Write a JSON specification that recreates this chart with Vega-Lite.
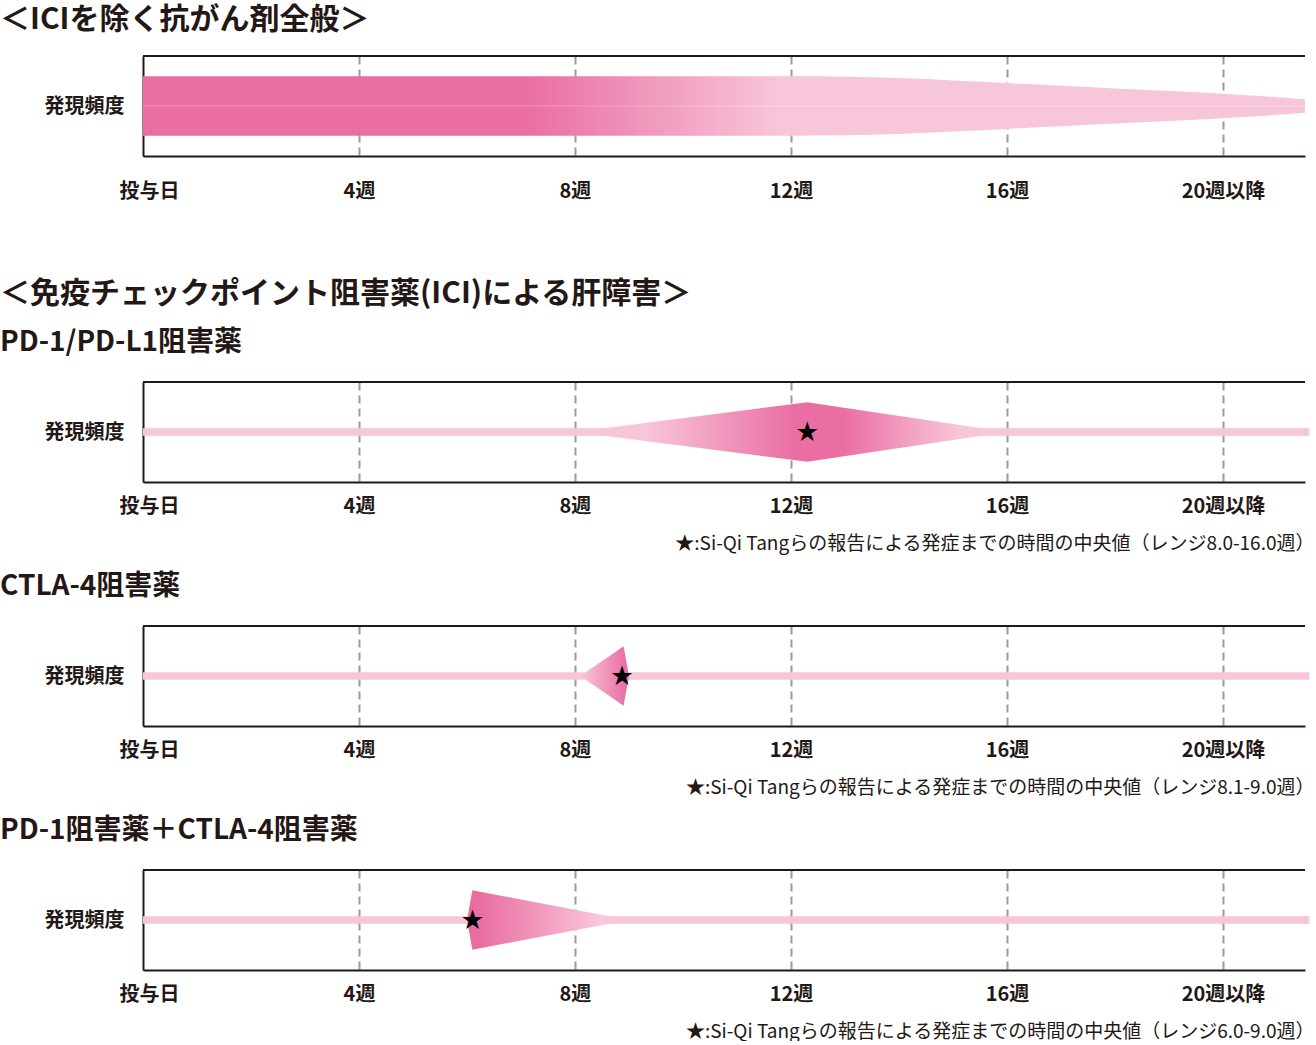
{
  "$schema": "https://vega.github.io/schema/vega-lite/v6.json",
  "padding": {"top": 5, "left": 0, "right": 0, "bottom": 0},
  "background": "white",
  "config": {
    "font": "Noto Sans CJK JP",
    "view": {"stroke": null},
    "axis": {
      "labelFont": "Noto Sans CJK JP",
      "titleFont": "Noto Sans CJK JP",
      "labelColor": "#231815",
      "titleColor": "#231815",
      "domainColor": "#231815",
      "domainWidth": 2,
      "ticks": false
    },
    "title": {
      "font": "Noto Sans CJK JP",
      "subtitleFont": "Noto Sans CJK JP",
      "color": "#231815",
      "subtitleColor": "#231815",
      "fontWeight": "bold",
      "subtitleFontWeight": "bold",
      "anchor": "start",
      "frame": "bounds"
    }
  },
  "datasets": {
    "general": [
      {"week": 0, "lo": -1, "hi": 1},
      {"week": 12, "lo": -1, "hi": 1},
      {"week": 13, "lo": -0.985, "hi": 0.985},
      {"week": 14, "lo": -0.94, "hi": 0.94},
      {"week": 15, "lo": -0.86, "hi": 0.86},
      {"week": 16, "lo": -0.77, "hi": 0.77},
      {"week": 17, "lo": -0.68, "hi": 0.68},
      {"week": 18, "lo": -0.59, "hi": 0.59},
      {"week": 19, "lo": -0.5, "hi": 0.5},
      {"week": 20, "lo": -0.41, "hi": 0.41},
      {"week": 21.52, "lo": -0.23, "hi": 0.23}
    ],
    "pd1": [
      {"week": 8, "lo": 0, "hi": 0},
      {"week": 12.3, "lo": -1, "hi": 1},
      {"week": 16, "lo": 0, "hi": 0}
    ],
    "ctla4": [
      {"week": 8.1, "lo": 0, "hi": 0},
      {"week": 8.9, "lo": -1, "hi": 1},
      {"week": 9.0, "lo": 0, "hi": 0}
    ],
    "combo": [
      {"week": 6.0, "lo": 0, "hi": 0},
      {"week": 6.1, "lo": -1, "hi": 1},
      {"week": 9.0, "lo": 0, "hi": 0}
    ],
    "pd1_median": [{"week": 12.3}],
    "ctla4_median": [{"week": 8.87}],
    "combo_median": [{"week": 6.1}]
  },
  "spacing": 78,
  "vconcat": [
    {
      "width": 1162,
      "height": 100,
      "title": {"text": "＜ICIを除く抗がん剤全般＞", "fontSize": 30, "dx": -44, "offset": 20},
      "layer": [
        {
          "data": {"values": [{}]},
          "mark": {"type": "rule", "color": "#231815", "strokeWidth": 2},
          "encoding": {"y": {"datum": 1.68, "type": "quantitative", "scale": {"domain": [-1.68, 1.68], "nice": false, "zero": false}}}
        },
        {
          "data": {"name": "general"},
          "mark": {
            "type": "area", "orient": "vertical", "interpolate": "monotone",
            "fill": {"gradient": "linear", "x1": 0, "y1": 0, "x2": 1, "y2": 0,
              "stops": [
                {"offset": 0, "color": "#ea6ea2"},
                {"offset": 0.33, "color": "#ea6ea2"},
                {"offset": 0.55, "color": "#f8c6da"},
                {"offset": 1, "color": "#f8c6da"}
              ]}
          },
          "encoding": {
            "x": {"field": "week", "type": "quantitative", "scale": {"domain": [0, 21.52], "nice": false, "zero": false},
              "axis": {"values": [0, 4, 8, 12, 16, 20],
                "labelExpr": "datum.value === 0 ? '投与日' : datum.value === 20 ? '20週以降' : datum.value + '週'",
                "labelFontSize": 20, "labelFontWeight": "bold", "labelPadding": 25, "labelFlush": false,
                "labelOffset": {"condition": {"test": "datum.value === 0", "value": 6}, "value": 0},
                "grid": true, "gridColor": "#9b9b9b", "gridDash": [8, 5], "gridWidth": 2,
                "gridOpacity": {"condition": {"test": "datum.value === 0", "value": 0}, "value": 1},
                "title": null}},
            "y": {"field": "lo", "type": "quantitative", "scale": {"domain": [-1.68, 1.68], "nice": false, "zero": false},
              "axis": {"values": [0], "labelExpr": "'発現頻度'", "labelFontSize": 20, "labelFontWeight": "bold", "labelPadding": 19, "grid": false, "title": null}},
            "y2": {"field": "hi"}
          }
        },
        {
          "data": {"values": [{}]},
          "mark": {"type": "rule", "color": "white", "strokeWidth": 1, "opacity": 0.25},
          "encoding": {"y": {"datum": 0, "type": "quantitative", "scale": {"domain": [-1.68, 1.68], "nice": false, "zero": false}}}
        }
      ]
    },
    {
      "spacing": 20,
      "vconcat": [
        {
          "width": 1162,
          "height": 100,
          "title": {"text": "＜免疫チェックポイント阻害薬(ICI)による肝障害＞", "subtitle": "PD-1/PD-L1阻害薬", "fontSize": 30, "subtitleFontSize": 28, "subtitlePadding": 20, "dx": -44, "offset": 24},
          "layer": [
            {
              "data": {"values": [{}]},
              "mark": {"type": "rule", "color": "#231815", "strokeWidth": 2},
              "encoding": {"y": {"datum": 1.68, "type": "quantitative", "scale": {"domain": [-1.68, 1.68], "nice": false, "zero": false}}}
            },
            {
              "data": {"values": [{}]},
              "mark": {"type": "rule", "color": "#f8c6da", "strokeWidth": 7.5, "clip": false},
              "encoding": {
                "x": {"datum": 0, "type": "quantitative", "scale": {"domain": [0, 21.52], "nice": false, "zero": false}},
                "x2": {"datum": 21.6},
                "y": {"datum": 0, "type": "quantitative", "scale": {"domain": [-1.68, 1.68], "nice": false, "zero": false}}
              }
            },
            {
              "data": {"name": "pd1"},
              "mark": {
                "type": "area", "orient": "vertical",
                "fill": {"gradient": "linear", "x1": 0, "y1": 0, "x2": 1, "y2": 0,
                  "stops": [
                    {"offset": 0, "color": "#f8c6da"},
                    {"offset": 0.16, "color": "#f8c6da"},
                    {"offset": 0.51, "color": "#ea6ea2"},
                    {"offset": 0.62, "color": "#ea6ea2"},
                    {"offset": 0.89, "color": "#f8c6da"},
                    {"offset": 1, "color": "#f8c6da"}
                  ]}
              },
              "encoding": {
                "x": {"field": "week", "type": "quantitative", "scale": {"domain": [0, 21.52], "nice": false, "zero": false},
                  "axis": {"values": [0, 4, 8, 12, 16, 20],
                    "labelExpr": "datum.value === 0 ? '投与日' : datum.value === 20 ? '20週以降' : datum.value + '週'",
                    "labelFontSize": 20, "labelFontWeight": "bold", "labelPadding": 14, "labelFlush": false,
                    "labelOffset": {"condition": {"test": "datum.value === 0", "value": 6}, "value": 0},
                    "grid": true, "gridColor": "#9b9b9b", "gridDash": [8, 5], "gridWidth": 2,
                    "gridOpacity": {"condition": {"test": "datum.value === 0", "value": 0}, "value": 1},
                    "title": "★:Si-Qi Tangらの報告による発症までの時間の中央値（レンジ8.0-16.0週）",
                    "titleFontSize": 19, "titleFontWeight": "normal", "titleAnchor": "end", "titleAlign": "right", "titleX": 1171, "titlePadding": 18}},
                "y": {"field": "lo", "type": "quantitative", "scale": {"domain": [-1.68, 1.68], "nice": false, "zero": false},
                  "axis": {"values": [0], "labelExpr": "'発現頻度'", "labelFontSize": 20, "labelFontWeight": "bold", "labelPadding": 19, "grid": false, "title": null}},
                "y2": {"field": "hi"}
              }
            },
            {
              "data": {"name": "pd1_median"},
              "mark": {"type": "text", "text": "★", "fontSize": 22, "color": "#000000", "baseline": "middle", "align": "center"},
              "encoding": {
                "x": {"field": "week", "type": "quantitative", "scale": {"domain": [0, 21.52], "nice": false, "zero": false}},
                "y": {"datum": 0, "type": "quantitative", "scale": {"domain": [-1.68, 1.68], "nice": false, "zero": false}}
              }
            }
          ]
        },
        {
          "width": 1162,
          "height": 100,
          "title": {"text": "CTLA-4阻害薬", "fontSize": 28, "dx": -44, "offset": 24},
          "layer": [
            {
              "data": {"values": [{}]},
              "mark": {"type": "rule", "color": "#231815", "strokeWidth": 2},
              "encoding": {"y": {"datum": 1.68, "type": "quantitative", "scale": {"domain": [-1.68, 1.68], "nice": false, "zero": false}}}
            },
            {
              "data": {"values": [{}]},
              "mark": {"type": "rule", "color": "#f8c6da", "strokeWidth": 7.5, "clip": false},
              "encoding": {
                "x": {"datum": 0, "type": "quantitative", "scale": {"domain": [0, 21.52], "nice": false, "zero": false}},
                "x2": {"datum": 21.6},
                "y": {"datum": 0, "type": "quantitative", "scale": {"domain": [-1.68, 1.68], "nice": false, "zero": false}}
              }
            },
            {
              "data": {"name": "ctla4"},
              "mark": {
                "type": "area", "orient": "vertical",
                "fill": {"gradient": "linear", "x1": 0, "y1": 0, "x2": 1, "y2": 0,
                  "stops": [
                    {"offset": 0, "color": "#f8c6da"},
                    {"offset": 1, "color": "#e96aa0"}
                  ]}
              },
              "encoding": {
                "x": {"field": "week", "type": "quantitative", "scale": {"domain": [0, 21.52], "nice": false, "zero": false},
                  "axis": {"values": [0, 4, 8, 12, 16, 20],
                    "labelExpr": "datum.value === 0 ? '投与日' : datum.value === 20 ? '20週以降' : datum.value + '週'",
                    "labelFontSize": 20, "labelFontWeight": "bold", "labelPadding": 14, "labelFlush": false,
                    "labelOffset": {"condition": {"test": "datum.value === 0", "value": 6}, "value": 0},
                    "grid": true, "gridColor": "#9b9b9b", "gridDash": [8, 5], "gridWidth": 2,
                    "gridOpacity": {"condition": {"test": "datum.value === 0", "value": 0}, "value": 1},
                    "title": "★:Si-Qi Tangらの報告による発症までの時間の中央値（レンジ8.1-9.0週）",
                    "titleFontSize": 19, "titleFontWeight": "normal", "titleAnchor": "end", "titleAlign": "right", "titleX": 1171, "titlePadding": 18}},
                "y": {"field": "lo", "type": "quantitative", "scale": {"domain": [-1.68, 1.68], "nice": false, "zero": false},
                  "axis": {"values": [0], "labelExpr": "'発現頻度'", "labelFontSize": 20, "labelFontWeight": "bold", "labelPadding": 19, "grid": false, "title": null}},
                "y2": {"field": "hi"}
              }
            },
            {
              "data": {"name": "ctla4_median"},
              "mark": {"type": "text", "text": "★", "fontSize": 22, "color": "#000000", "baseline": "middle", "align": "center"},
              "encoding": {
                "x": {"field": "week", "type": "quantitative", "scale": {"domain": [0, 21.52], "nice": false, "zero": false}},
                "y": {"datum": 0, "type": "quantitative", "scale": {"domain": [-1.68, 1.68], "nice": false, "zero": false}}
              }
            }
          ]
        },
        {
          "width": 1162,
          "height": 100,
          "title": {"text": "PD-1阻害薬＋CTLA-4阻害薬", "fontSize": 28, "dx": -44, "offset": 24},
          "layer": [
            {
              "data": {"values": [{}]},
              "mark": {"type": "rule", "color": "#231815", "strokeWidth": 2},
              "encoding": {"y": {"datum": 1.68, "type": "quantitative", "scale": {"domain": [-1.68, 1.68], "nice": false, "zero": false}}}
            },
            {
              "data": {"values": [{}]},
              "mark": {"type": "rule", "color": "#f8c6da", "strokeWidth": 7.5, "clip": false},
              "encoding": {
                "x": {"datum": 0, "type": "quantitative", "scale": {"domain": [0, 21.52], "nice": false, "zero": false}},
                "x2": {"datum": 21.6},
                "y": {"datum": 0, "type": "quantitative", "scale": {"domain": [-1.68, 1.68], "nice": false, "zero": false}}
              }
            },
            {
              "data": {"name": "combo"},
              "mark": {
                "type": "area", "orient": "vertical",
                "fill": {"gradient": "linear", "x1": 0, "y1": 0, "x2": 1, "y2": 0,
                  "stops": [
                    {"offset": 0, "color": "#e96aa0"},
                    {"offset": 0.08, "color": "#ea6ea2"},
                    {"offset": 0.82, "color": "#f8c6da"},
                    {"offset": 1, "color": "#f8c6da"}
                  ]}
              },
              "encoding": {
                "x": {"field": "week", "type": "quantitative", "scale": {"domain": [0, 21.52], "nice": false, "zero": false},
                  "axis": {"values": [0, 4, 8, 12, 16, 20],
                    "labelExpr": "datum.value === 0 ? '投与日' : datum.value === 20 ? '20週以降' : datum.value + '週'",
                    "labelFontSize": 20, "labelFontWeight": "bold", "labelPadding": 14, "labelFlush": false,
                    "labelOffset": {"condition": {"test": "datum.value === 0", "value": 6}, "value": 0},
                    "grid": true, "gridColor": "#9b9b9b", "gridDash": [8, 5], "gridWidth": 2,
                    "gridOpacity": {"condition": {"test": "datum.value === 0", "value": 0}, "value": 1},
                    "title": "★:Si-Qi Tangらの報告による発症までの時間の中央値（レンジ6.0-9.0週）",
                    "titleFontSize": 19, "titleFontWeight": "normal", "titleAnchor": "end", "titleAlign": "right", "titleX": 1171, "titlePadding": 18}},
                "y": {"field": "lo", "type": "quantitative", "scale": {"domain": [-1.68, 1.68], "nice": false, "zero": false},
                  "axis": {"values": [0], "labelExpr": "'発現頻度'", "labelFontSize": 20, "labelFontWeight": "bold", "labelPadding": 19, "grid": false, "title": null}},
                "y2": {"field": "hi"}
              }
            },
            {
              "data": {"name": "combo_median"},
              "mark": {"type": "text", "text": "★", "fontSize": 22, "color": "#000000", "baseline": "middle", "align": "center"},
              "encoding": {
                "x": {"field": "week", "type": "quantitative", "scale": {"domain": [0, 21.52], "nice": false, "zero": false}},
                "y": {"datum": 0, "type": "quantitative", "scale": {"domain": [-1.68, 1.68], "nice": false, "zero": false}}
              }
            }
          ]
        }
      ]
    }
  ]
}
